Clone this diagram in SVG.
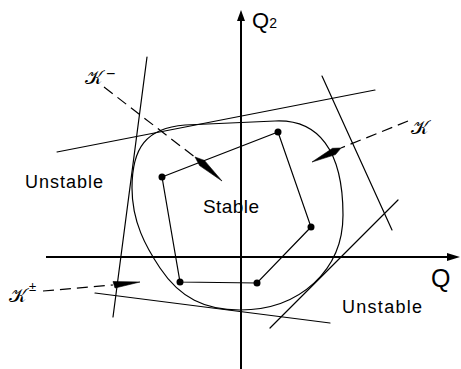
<svg xmlns="http://www.w3.org/2000/svg" width="461" height="369" viewBox="0 0 461 369">
<defs>
<style>
.ln{stroke:#000;stroke-width:1.2;fill:none;stroke-linecap:round}
.ax{stroke:#000;stroke-width:2;fill:none}
.ds{stroke:#000;stroke-width:1.2;fill:none;stroke-dasharray:11,6}
.dot{fill:#000}
.wd{fill:#000;stroke:#000;stroke-width:0.6;stroke-linejoin:round}
.t{font-family:"Liberation Sans",Arial,sans-serif;fill:#000}
.k{font-family:"DejaVu Serif","DejaVu Sans",serif;fill:#000}
</style>
</defs>
<rect width="461" height="369" fill="#fff"/>
<g id="connectors">
<line class="ax" x1="241" y1="369" x2="241" y2="20"/>
<path d="M241,10 L237,21 L245,21 Z" fill="#000"/>
<line class="ax" x1="46" y1="257" x2="449" y2="257"/>
<path d="M460,257 L447,253 L447,261 Z" fill="#000"/>
<path class="ln" d="M132,188 C132,148 146,128 185,125 L275,121 C318,119 343,150 343,215 C343,270 300,310 240,310 C205,310 180,298 160,268 C146,247 132,222 132,188 Z"/>
<line class="ln" x1="147" y1="57" x2="113" y2="317"/>
<line class="ln" x1="57" y1="152" x2="375" y2="90"/>
<line class="ln" x1="322" y1="76" x2="392" y2="230"/>
<line class="ln" x1="398" y1="200" x2="270" y2="328"/>
<line class="ln" x1="95" y1="293" x2="330" y2="323"/>
<path class="ln" d="M162,177 L278,132 L311,227 L257,283 L180,282 Z"/>
<line class="ds" x1="104" y1="87" x2="196" y2="158"/>
<path class="wd" d="M195,157 L204.4,160.4 L222,181 L199.6,165.6 Z"/>
<line class="ds" x1="408" y1="121" x2="341" y2="148"/>
<path class="wd" d="M341,148 L332.5,148.3 L312,162 L335.5,154.6 Z"/>
<line class="ds" x1="43" y1="291" x2="113" y2="285"/>
<path class="wd" d="M113,281.5 L140,282 L115,288 Z"/>
</g>
<g id="dots">
<circle class="dot" cx="162" cy="177" r="3.5"/>
<circle class="dot" cx="278" cy="132" r="3.5"/>
<circle class="dot" cx="311" cy="227" r="3.5"/>
<circle class="dot" cx="257" cy="283" r="3.5"/>
<circle class="dot" cx="180" cy="282" r="3.5"/>
</g>
<g id="labels">
<text class="t" x="252" y="28" font-size="22">Q<tspan font-size="14">2</tspan></text>
<text class="t" x="431" y="287" font-size="25">Q</text>
<text class="t" x="25" y="188" font-size="18" textLength="78">Unstable</text>
<text class="t" x="342" y="313" font-size="18" textLength="80">Unstable</text>
<text class="t" x="203" y="213" font-size="19" textLength="56">Stable</text>
<text class="k" x="85" y="84" font-size="19">𝒦</text>
<text class="t" x="106" y="79" font-size="16">−</text>
<text class="k" x="411" y="134" font-size="19">𝒦</text>
<text class="k" x="9" y="302" font-size="19">𝒦</text>
<text class="t" x="29" y="291" font-size="13">±</text>
</g>
</svg>
